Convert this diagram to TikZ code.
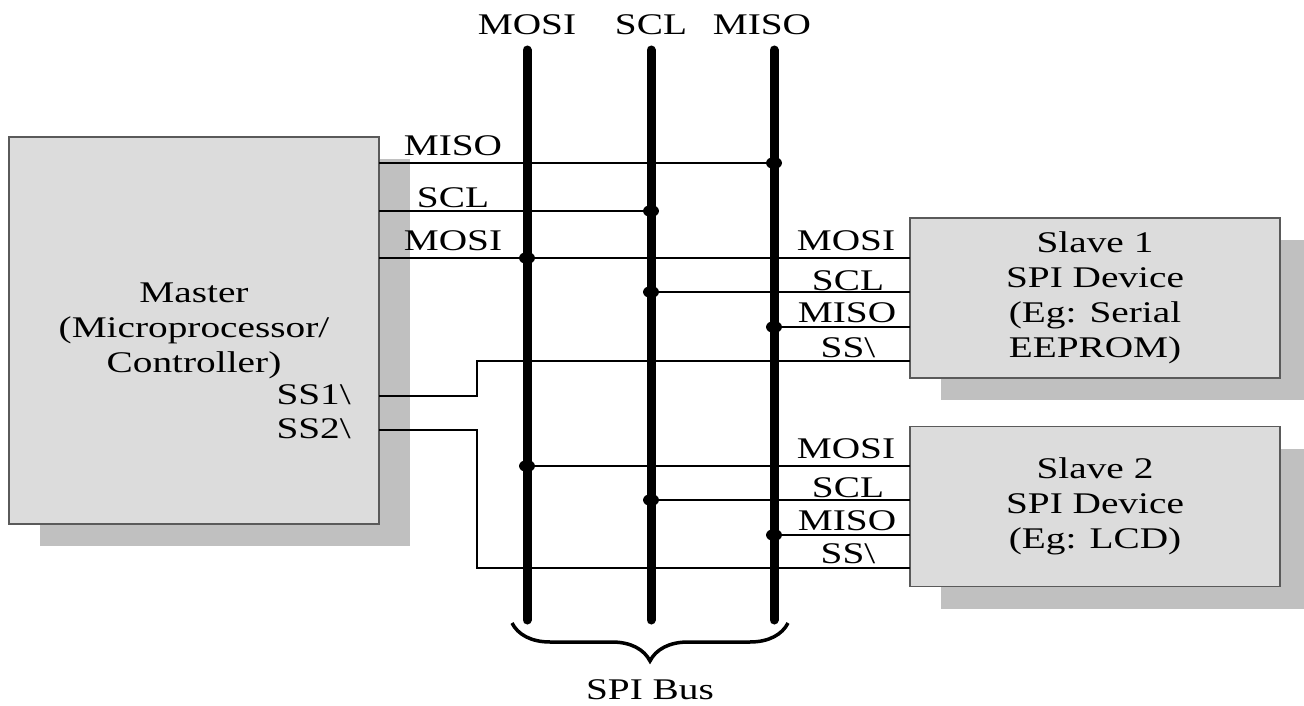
\documentclass[tikz,border=0pt]{standalone}
\usepackage{fontspec}
\setmainfont{Liberation Serif}[FakeStretch=1.31]
\usetikzlibrary{positioning, shadows, decorations.pathreplacing}
\definecolor{boxgray}{HTML}{DCDCDC}
\definecolor{shadowgray}{HTML}{C0C0C0}
\definecolor{edgegray}{HTML}{5A5A5A}

\begin{document}
\begin{tikzpicture}[
	  x=1pt, y=-1pt,
	  font=\fontsize{30}{35}\selectfont,
	  device/.style={rectangle, draw=edgegray, line width=1.5pt, fill=boxgray, align=center, minimum width=370pt,
	    drop shadow={shadow xshift=31pt, shadow yshift=-22pt, fill=shadowgray, opacity=1}},
	  wire/.style={line width=2pt},
	  bus/.style={line width=9pt, line cap=round},
	  pinlabel/.style={anchor=base, inner sep=0pt},
	  toplabel/.style={inner sep=0pt},
	  junction/.style={fill=black}
	]
	\useasboundingbox (0,0) rectangle (1304,706);

	% devices
	\node (master) [device, minimum height=387pt] at (194,330.5) {Master\\(Microprocessor/\\Controller)};
	\node (slave1) [device, minimum height=160pt] at (1095,298) {Slave 1\\SPI Device\\(Eg: Serial\\EEPROM)};
	\node (slave2) [device, minimum height=160pt, below=47pt of slave1] {Slave 2\\SPI Device\\(Eg: LCD)};

	% bus ends
	\coordinate (mosiT) at (527,50);
	\coordinate (mosiB) at (527,620);
	\coordinate (sclT) at (651,50);
	\coordinate (sclB) at (651,620);
	\coordinate (misoT) at (774,50);
	\coordinate (misoB) at (774,620);
	\coordinate (jog) at (477,0);

	% pins
	\coordinate (mMISO) at (379,163);
	\coordinate (mSCL) at (379,211);
	\coordinate (mMOSI) at (379,258);
	\coordinate (mSS1) at (379,396);
	\coordinate (mSS2) at (379,430);
	\coordinate (s1MOSI) at (910,258);
	\coordinate (s1SCL) at (910,292);
	\coordinate (s1MISO) at (910,327);
	\coordinate (s1SS) at (910,361);
	\coordinate (s2MOSI) at (910,466);
	\coordinate (s2SCL) at (910,500);
	\coordinate (s2MISO) at (910,535);
	\coordinate (s2SS) at (910,568);

	% wires
	\draw [wire] (mMISO) -- (misoT |- mMISO);
	\draw [wire] (mSCL) -- (sclT |- mSCL);
	\draw [wire] (mMOSI) -- (s1MOSI);
	\draw [wire] (sclT |- s1SCL) -- (s1SCL);
	\draw [wire] (misoT |- s1MISO) -- (s1MISO);
	\draw [wire] (mSS1) -| (jog |- s1SS) -- (s1SS);
	\draw [wire] (mosiT |- s2MOSI) -- (s2MOSI);
	\draw [wire] (sclT |- s2SCL) -- (s2SCL);
	\draw [wire] (misoT |- s2MISO) -- (s2MISO);
	\draw [wire] (mSS2) -| (jog |- s2SS) -- (s2SS);

	% bus
	\draw [bus] (mosiT) -- (mosiB);
	\draw [bus] (sclT) -- (sclB);
	\draw [bus] (misoT) -- (misoB);

	% junctions
	\foreach \p in {misoT |- mMISO, sclT |- mSCL, mosiT |- mMOSI, sclT |- s1SCL, misoT |- s1MISO, mosiT |- s2MOSI, sclT |- s2SCL, misoT |- s2MISO}
	  \fill [junction] (\p) ellipse [x radius=8pt, y radius=6pt];

	% labels
	\node (tMOSI) [toplabel, above=15pt of mosiT] {MOSI};
	\node (tSCL) [toplabel, above=15pt of sclT] {SCL};
	\node (tMISO) [toplabel, above=15pt of misoT, xshift=-12pt] {MISO};

	\node (lmMISO) [pinlabel] at (453,156) {MISO};
	\node (lmSCL) [pinlabel] at (453,207) {SCL};
	\node (lmMOSI) [pinlabel] at (453,250) {MOSI};
	\node (lmSS1) [pinlabel, anchor=base east] at (351,404) {SS1\textbackslash};
	\node (lmSS2) [pinlabel, anchor=base east] at (351,438) {SS2\textbackslash};

	\node (l1MOSI) [pinlabel] at (846,250) {MOSI};
	\node (l1SCL) [pinlabel] at (848,290) {SCL};
	\node (l1MISO) [pinlabel] at (847,322) {MISO};
	\node (l1SS) [pinlabel] at (848,357) {SS\textbackslash};
	\node (l2MOSI) [pinlabel] at (846,458) {MOSI};
	\node (l2SCL) [pinlabel] at (848,497) {SCL};
	\node (l2MISO) [pinlabel] at (847,530) {MISO};
	\node (l2SS) [pinlabel] at (848,563) {SS\textbackslash};

	% brace
	\coordinate (braceL) at (512,623);
	\coordinate (braceR) at (788,623);
	\draw [decorate, decoration={brace, amplitude=38pt, mirror}, line width=3.5pt] (braceL) -- (braceR);
	\node (busname) [pinlabel] at (650,699) {SPI Bus};

\end{tikzpicture}
\end{document}
